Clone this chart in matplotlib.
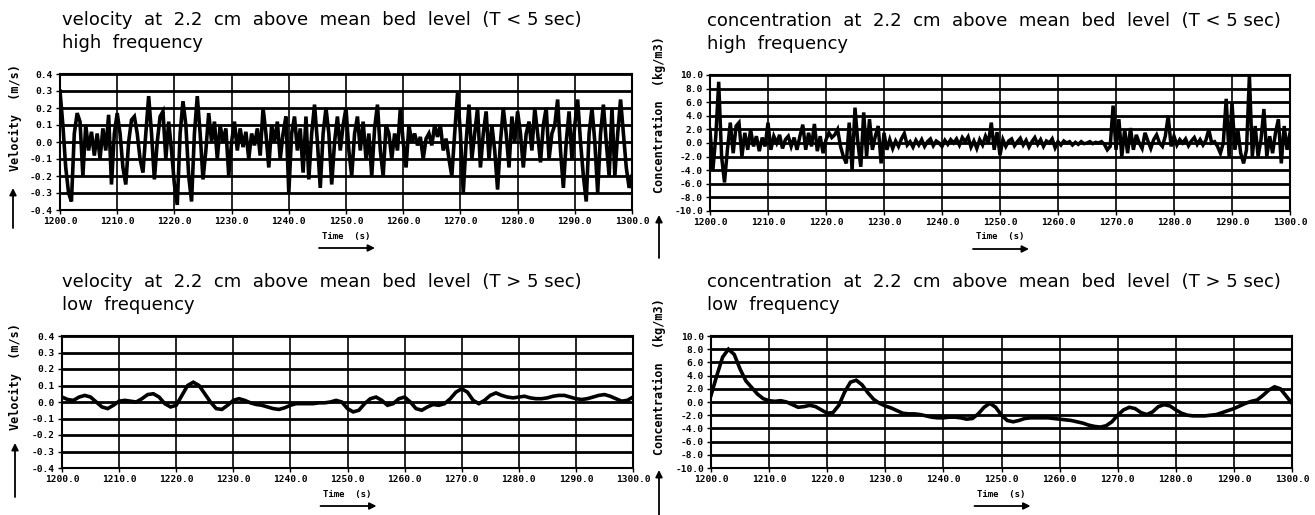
import numpy as np
import matplotlib
matplotlib.use("Agg")
import matplotlib.pyplot as plt

# velocity, high frequency part (m/s), one value every 0.5 s from 1200 s
vel_hf = [
    0.30, 0.10, -0.15, -0.30, -0.35, 0.05, 0.17, 0.12, -0.20, 0.10,
    -0.05, 0.06, -0.08, 0.05, -0.10, 0.08, -0.05, 0.16, -0.25, 0.05,
    0.17, 0.05, -0.15, -0.25, 0.00, 0.13, 0.15, 0.05, -0.10, -0.18,
    0.05, 0.27, 0.05, -0.22, 0.00, 0.15, 0.18, -0.10, 0.12, -0.05,
    -0.25, -0.37, 0.05, 0.24, 0.10, -0.20, -0.35, 0.05, 0.27, 0.05,
    -0.22, -0.05, 0.17, 0.00, 0.12, -0.10, 0.10, 0.00, 0.08, -0.20,
    0.00, 0.12, -0.05, 0.08, -0.03, 0.06, -0.10, 0.05, -0.02, 0.08,
    -0.08, 0.20, 0.05, -0.15, 0.10, 0.00, 0.12, -0.10, 0.05, 0.15,
    -0.30, 0.05, 0.15, -0.05, 0.08, -0.18, 0.15, -0.22, 0.05, 0.22,
    0.00, -0.27, 0.05, 0.20, 0.05, -0.25, 0.00, 0.15, -0.05, 0.10,
    0.20, -0.05, -0.20, 0.05, 0.15, -0.05, 0.12, -0.10, 0.05, -0.20,
    0.08, 0.22, -0.05, -0.20, 0.10, 0.05, -0.10, 0.05, -0.05, 0.20,
    0.00, -0.15, 0.10, 0.00, 0.05, -0.02, 0.03, -0.10, 0.02, 0.05,
    -0.02, 0.10, 0.03, 0.10, -0.05, 0.02, -0.10, -0.20, 0.05, 0.29,
    0.05, -0.30, 0.00, 0.22, -0.10, 0.05, 0.20, -0.15, 0.05, 0.18,
    -0.10, 0.10, -0.05, -0.28, 0.00, 0.20, 0.05, -0.15, 0.15, 0.00,
    0.18, 0.05, -0.15, 0.05, 0.12, -0.05, 0.20, 0.05, -0.12, 0.10,
    0.20, -0.10, 0.05, 0.10, 0.25, -0.05, -0.27, 0.00, 0.18, -0.10,
    0.10, 0.25, 0.00, -0.20, -0.35, 0.05, 0.20, 0.00, -0.30, 0.05,
    0.22, 0.00, -0.20, 0.20, -0.20, 0.05, 0.25, 0.05, -0.15, -0.27,
    -0.20,
]

# concentration, high frequency part (kg/m3), every 0.5 s
conc_hf = [
    2.0, -4.0, 1.0, 9.0, -2.0, -5.8, -1.0, 3.0, -1.5, 2.5,
    3.0, -2.0, 1.5, -1.0, 2.0, -0.5, 1.0, -1.2, 0.8, -0.5,
    3.0, -1.0, 1.0, 0.0, 1.2, -0.8, 0.5, 1.0, -0.5, 0.8,
    -1.0, 1.0, 2.7, -1.0, 1.5, -0.5, 2.8, -1.2, 1.0, -1.5,
    0.5, 1.5, 0.8, 1.2, 2.0, -0.5, -2.0, -3.0, 3.0, -4.0,
    5.2, 0.0, -3.5, 4.5, -2.0, 3.5, -1.0, 1.0, 2.5, -3.0,
    1.5, -1.0, 0.5, -0.8, 0.3, -0.5, 0.6, 1.4, -0.3, 0.2,
    -0.6, 0.4, -0.3, 0.5, -0.5, 0.2, 0.6, -0.4, 0.3, 0.0,
    -0.5, 0.4, -0.2, 0.5, 0.0, 0.6, -0.3, 0.8, 0.2, 0.9,
    -0.6, 0.3, -0.8, 0.5, -0.3, 1.0, 0.0, 3.0, -1.0, 1.6,
    -1.8, 0.5, -0.5, 0.3, 0.6, -0.4, 0.2, 0.7, -0.3, 0.4,
    -0.6, 0.2, 0.8, -0.2, 0.5, -0.5, 0.3, 0.0, 0.6, -0.7,
    0.2, -0.3, 0.3, 0.0, 0.2, -0.3, 0.1, -0.2, 0.2, -0.1,
    0.0, 0.2, -0.1, 0.1, 0.0, 0.2, -0.2, -1.0, -0.5, 5.5,
    -1.0, 3.5, -2.0, 2.0, -1.5, 2.2, -1.0, 1.2, 0.0, -0.8,
    1.5, 0.3, -0.8, 0.5, 1.2, 0.0, -0.5, 1.0, 4.0, -0.5,
    1.0, -0.3, 0.5, 0.0, 0.6, -0.4, 0.3, 0.8, -0.2, 0.5,
    -0.3, 0.4, 2.0, 0.0, 0.2, -0.5, -1.5, 0.0, 6.5, -2.0,
    6.0, -1.0, 2.0, -1.5, -3.0, -1.0, 10.0, -2.0, 2.5, -2.0,
    0.5, 5.0, -2.0, 1.0, -1.5, 1.5, 3.5, -3.0, 2.5, -1.0,
    1.5,
]

# velocity, low frequency part (m/s), every 1 s
vel_lf = [
    0.03, 0.015, 0.01, 0.03, 0.04, 0.03, 0.00, -0.03, -0.04, -0.02,
    0.005, 0.01, 0.005, 0.00, 0.02, 0.045, 0.05, 0.03, -0.01, -0.03,
    -0.02, 0.04, 0.10, 0.12, 0.10, 0.05, 0.00, -0.04, -0.045, -0.02,
    0.01, 0.02, 0.01, -0.005, -0.015, -0.02, -0.03, -0.04, -0.045, -0.035,
    -0.02, -0.01, -0.01, -0.01, -0.01, -0.005, -0.005, 0.00, 0.01, 0.00,
    -0.04, -0.06, -0.05, -0.01, 0.02, 0.03, 0.01, -0.02, -0.01, 0.02,
    0.03, 0.00, -0.04, -0.05, -0.03, -0.015, -0.02, -0.01, 0.02, 0.06,
    0.08, 0.06, 0.01, -0.01, 0.01, 0.04, 0.055, 0.04, 0.03, 0.025,
    0.03, 0.035, 0.025, 0.02, 0.02, 0.025, 0.035, 0.04, 0.04, 0.03,
    0.02, 0.015, 0.02, 0.03, 0.04, 0.045, 0.035, 0.02, 0.005, 0.01,
    0.03,
]

# concentration, low frequency part (kg/m3), every 1 s
conc_lf = [
    1.0, 4.0, 6.8, 8.0, 7.2, 5.0, 3.2, 2.2, 1.2, 0.5,
    0.2, 0.1, 0.2, 0.0, -0.4, -0.8, -0.7, -0.5, -0.7, -1.2,
    -1.7, -1.6, -0.5, 1.5, 3.0, 3.3, 2.6, 1.4, 0.4, -0.2,
    -0.6, -0.9, -1.3, -1.7, -1.8, -1.8, -1.9, -2.1, -2.3, -2.4,
    -2.4, -2.3, -2.3, -2.4, -2.6, -2.5, -1.8, -0.8, -0.2, -0.8,
    -2.0, -2.8, -3.0, -2.8, -2.5, -2.4, -2.4, -2.4, -2.4, -2.5,
    -2.6, -2.7, -2.8, -3.0, -3.2, -3.5, -3.7, -3.8, -3.6, -3.0,
    -2.0, -1.2, -0.8, -1.0, -1.6, -1.9, -1.5, -0.7, -0.4, -0.6,
    -1.2, -1.7, -2.0, -2.1, -2.1, -2.1, -2.0, -1.9, -1.6, -1.3,
    -1.0, -0.6, -0.2, 0.1, 0.3, 1.0, 1.8, 2.3, 2.0, 0.9,
    -0.2,
]

t_start = 1200.0
hf_step = 0.5
lf_step = 1.0

x_ticks = np.arange(1200, 1301, 10)
vel_ticks = np.round(np.arange(-0.4, 0.41, 0.1), 1)
conc_ticks = np.arange(-10, 10.1, 2.0)

title_vel = "velocity  at  2.2  cm  above  mean  bed  level"
title_conc = "concentration  at  2.2  cm  above  mean  bed  level"

W, H = 1315, 515
fig = plt.figure(figsize=(W / 100, H / 100), dpi=100)
fig.patch.set_facecolor("white")

mono = "DejaVu Sans Mono"


def box(x0, y0, x1, y1):
    # pixel box (top-left origin) -> figure fraction rect
    return [x0 / W, 1 - y1 / H, (x1 - x0) / W, (y1 - y0) / H]


def arrow(x0, y0, x1, y1):
    fig.add_artist(plt.Annotation(
        "", xy=(x1 / W, 1 - y1 / H), xytext=(x0 / W, 1 - y0 / H),
        xycoords="figure fraction", textcoords="figure fraction",
        arrowprops=dict(arrowstyle="-|>", color="k", lw=1.3,
                        mutation_scale=10, shrinkA=0, shrinkB=0)))


def panel(rect, values, step, yticks, fmt, line1, line2, ylabel,
          title_x, lab_x, lab_y, arr, lw):
    ax = fig.add_axes(box(*rect))
    t = t_start + step * np.arange(len(values))
    ax.set_xlim(1200, 1300)
    ax.set_ylim(yticks[0], yticks[-1])
    for y in yticks:
        ax.axhline(y, color="k", lw=2.0, zorder=1)
    for x in x_ticks:
        ax.axvline(x, color="k", lw=1.2, zorder=1)
    ax.plot(t, values, color="k", lw=lw, zorder=3, solid_joinstyle="miter")
    ax.set_xticks(x_ticks)
    ax.set_xticklabels([f"{v:.1f}" for v in x_ticks])
    ax.set_yticks(yticks)
    ax.set_yticklabels([fmt.format(v + 0.0) for v in yticks])
    ax.tick_params(length=3, width=1, direction="out", pad=2)
    for lab in ax.get_xticklabels() + ax.get_yticklabels():
        lab.set_fontfamily(mono)
        lab.set_fontweight("bold")
        lab.set_fontsize(6.8)
    for s in ax.spines.values():
        s.set_linewidth(1.5)

    x0, y0, x1, y1 = rect
    fig.text(title_x / W, 1 - (y0 - 54) / H, line1, fontsize=13,
             va="center", ha="left")
    fig.text(title_x / W, 1 - (y0 - 31) / H, line2, fontsize=13,
             va="center", ha="left")
    fig.text(lab_x / W, 1 - lab_y / H, ylabel, rotation=90, ha="center",
             va="center", family=mono, weight="bold", fontsize=8.5)
    arrow(*arr)
    xc = (x0 + x1) / 2
    fig.text(xc / W, 1 - (y1 + 26) / H, "Time  (s)", ha="center",
             va="center", family=mono, weight="bold", fontsize=6.5)
    arrow(xc - 27, y1 + 38, xc + 29, y1 + 38)
    return ax


panel((60, 74, 632, 210), vel_hf, hf_step, vel_ticks, "{:.1f}",
      title_vel + "  (T < 5 sec)", "high  frequency", "Velocity  (m/s)",
      62, 15, 118, (13, 228, 13, 188), 2.6)
panel((710, 75, 1290, 211), conc_hf, hf_step, conc_ticks, "{:.1f}",
      title_conc + "  (T < 5 sec)", "high  frequency",
      "Concentration  (kg/m3)", 707, 659, 115, (659, 258, 659, 215), 2.5)
panel((62, 336, 633, 468), vel_lf, lf_step, vel_ticks, "{:.1f}",
      title_vel + "  (T > 5 sec)", "low  frequency", "Velocity  (m/s)",
      62, 15, 377, (15, 497, 15, 443), 2.6)
panel((711, 336, 1292, 468), conc_lf, lf_step, conc_ticks, "{:.1f}",
      title_conc + "  (T > 5 sec)", "low  frequency",
      "Concentration  (kg/m3)", 707, 659, 377, (659, 515, 659, 470), 2.6)

fig.savefig("out.png", dpi=100, facecolor="white")
